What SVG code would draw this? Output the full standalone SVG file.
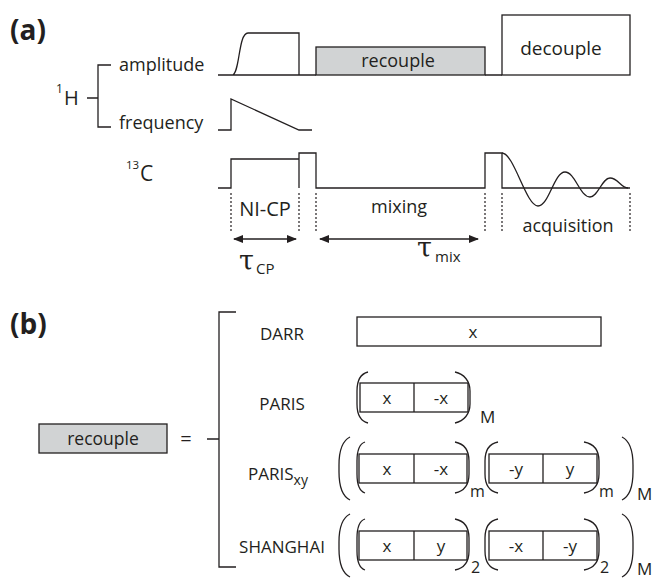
<svg xmlns="http://www.w3.org/2000/svg" width="654" height="581" viewBox="0 0 654 581">
  <defs>
    <style>
      .t { font-family: "Open Sans", "Liberation Sans", sans-serif; fill: #231f20; }
      .bold { font-weight: bold; }
      .greek { font-family: "DejaVu Serif", "Liberation Serif", serif; fill: #231f20; }
      .ln { fill: none; stroke: #231f20; stroke-width: 1.3; }
      .box { fill: #ffffff; stroke: #231f20; stroke-width: 1.3; }
      .gray { fill: #d1d3d4; stroke: #231f20; stroke-width: 1.3; }
      .dot { fill: none; stroke: #231f20; stroke-width: 1.2; stroke-dasharray: 2 2; }
      .arr { fill: none; stroke: #231f20; stroke-width: 1.4; marker-start: url(#ah); marker-end: url(#ah); }
      .par { fill: none; stroke: #231f20; stroke-width: 1.3; }
    </style>
    <marker id="ah" viewBox="0 0 10 8" refX="9" refY="4" markerWidth="10" markerHeight="8" markerUnits="userSpaceOnUse" orient="auto-start-reverse">
      <path d="M0,0 L10,4 L0,8 Z" fill="#231f20"/>
    </marker>
  </defs>

  <!-- panel labels -->
  <text class="t bold" x="10" y="40" font-size="28">(a)</text>
  <text class="t bold" x="10" y="334" font-size="28">(b)</text>

  <!-- ===== (a) pulse sequence ===== -->
  <g id="label-1H">
    <text class="t" x="56" y="93" font-size="12">1</text>
    <text class="t" x="64" y="105" font-size="20">H</text>
  </g>
  <g id="label-amplitude"><text class="t" x="119" y="71" font-size="18">amplitude</text></g>
  <g id="label-frequency"><text class="t" x="119" y="129" font-size="18">frequency</text></g>
  <g id="label-13C">
    <text class="t" x="126" y="169" font-size="11.5">13</text>
    <text class="t" x="140" y="181" font-size="21">C</text>
  </g>

  <!-- 1H amplitude channel -->
  <g id="h-amplitude">
    <path class="ln" d="M218,75 H316 M485,75 H502 M232,75 C240,75 238,33 248,33 H299 V75"/>
    <rect class="gray" x="316" y="47" width="169" height="28"/>
    <text class="t" x="398" y="67" font-size="18" text-anchor="middle">recouple</text>
    <rect class="box" x="502" y="15" width="128" height="60"/>
    <text class="t" x="561" y="55" font-size="19" text-anchor="middle">decouple</text>
  </g>

  <!-- 1H frequency channel -->
  <g id="h-frequency">
    <path class="ln" d="M218,130 H231 V99 L299,130 H312"/>
  </g>

  <!-- 13C channel -->
  <g id="c-channel">
    <path class="ln" d="M218,188 H231 V159 H299 V188 M299,159 V153 H316 V188 H485 V153 H502 V188 H630"/>
    <path class="ln" d="M502,153 C514,153 526,206 538,206 C549,206 554,172 565,172 C575,172 580,197 590,197 C598,197 602,178 610,178 C618,178 621,188 628,188"/>
  </g>

  <!-- timing windows -->
  <g id="timing">
    <path class="dot" d="M231,193 V232 M299,193 V232 M316,193 V232 M485,193 V232 M502,193 V232 M630,193 V232"/>
    <text class="t" x="265" y="216" font-size="20" text-anchor="middle">NI-CP</text>
    <text class="t" x="399" y="213" font-size="18" text-anchor="middle">mixing</text>
    <text class="t" x="568" y="232" font-size="18" text-anchor="middle">acquisition</text>
    <text class="greek" x="239" y="270" font-size="27">τ</text>
    <text class="t" x="256" y="274" font-size="15">CP</text>
    <text class="greek" x="417" y="257" font-size="27">τ</text>
    <text class="t" x="435" y="262" font-size="15">mix</text>
  </g>

  <!-- ===== (b) recoupling schemes ===== -->
  <g id="recouple-block">
    <rect class="gray" x="39" y="424" width="128" height="29"/>
    <text class="t" x="103" y="445" font-size="17.5" text-anchor="middle">recouple</text>
    <text class="t" x="186" y="446" font-size="20" text-anchor="middle">=</text>
  </g>

  <g id="darr">
    <text class="t" x="282" y="340" font-size="17" text-anchor="middle">DARR</text>
    <rect class="box" x="357" y="317" width="244" height="29"/>
    <text class="t" x="473" y="338" font-size="17" text-anchor="middle">x</text>
  </g>

  <g id="paris">
    <text class="t" x="282" y="410" font-size="17" text-anchor="middle">PARIS</text>
    <rect class="box" x="360" y="383" width="108" height="29"/>
    <line class="ln" x1="414" y1="383" x2="414" y2="412"/>
    <text class="t" x="387" y="404" font-size="17" text-anchor="middle">x</text>
    <text class="t" x="441" y="404" font-size="17" text-anchor="middle">-x</text>
    <path class="par" d="M368,372 C360,374 357,381 357,391 V404 C357,414 360,421 368,423"/>
    <path class="par" d="M455,372 C464,374 470,381 470,391 V404 C470,414 464,421 455,423"/>
    <text class="t" x="480" y="423" font-size="17">M</text>
  </g>

  <g id="paris-xy">
    <text class="t" x="248" y="480" font-size="17">PARIS<tspan font-size="14" dy="5">xy</tspan></text>
    <path class="par" d="M350,437 C342,441 339,452 339,465 V472 C339,485 342,496 350,500"/>
    <path class="par" d="M365,442 C359,444 357,451 357,461 V474 C357,484 359,491 365,493"/>
    <rect class="box" x="359" y="454" width="108" height="29"/>
    <line class="ln" x1="414" y1="454" x2="414" y2="483"/>
    <text class="t" x="387" y="475" font-size="17" text-anchor="middle">x</text>
    <text class="t" x="441" y="475" font-size="17" text-anchor="middle">-x</text>
    <path class="par" d="M455,442 C465,444 469,451 469,461 V474 C469,484 465,491 455,493"/>
    <text class="t" x="470" y="497" font-size="16">m</text>
    <path class="par" d="M498,442 C488,444 485,451 485,461 V474 C485,484 488,491 498,493"/>
    <rect class="box" x="489" y="454" width="108" height="29"/>
    <line class="ln" x1="543" y1="454" x2="543" y2="483"/>
    <text class="t" x="516" y="475" font-size="17" text-anchor="middle">-y</text>
    <text class="t" x="570" y="475" font-size="17" text-anchor="middle">y</text>
    <path class="par" d="M584,442 C595,444 599,451 599,461 V474 C599,484 595,491 584,493"/>
    <text class="t" x="599" y="497" font-size="16">m</text>
    <path class="par" d="M622,437 C630,441 633,452 633,465 V472 C633,485 630,496 622,500"/>
    <text class="t" x="637" y="500" font-size="17">M</text>
  </g>

  <g id="shanghai">
    <text class="t" x="282" y="553" font-size="17" text-anchor="middle">SHANGHAI</text>
    <path class="par" d="M350,514 C342,518 339,529 339,542 V549 C339,562 342,573 350,577"/>
    <path class="par" d="M365,519 C359,521 357,528 357,538 V551 C357,561 359,568 365,570"/>
    <rect class="box" x="359" y="531" width="108" height="29"/>
    <line class="ln" x1="414" y1="531" x2="414" y2="560"/>
    <text class="t" x="387" y="552" font-size="17" text-anchor="middle">x</text>
    <text class="t" x="441" y="552" font-size="17" text-anchor="middle">y</text>
    <path class="par" d="M455,519 C465,521 469,528 469,538 V551 C469,561 465,568 455,570"/>
    <text class="t" x="471" y="573" font-size="16">2</text>
    <path class="par" d="M498,519 C488,521 485,528 485,538 V551 C485,561 488,568 498,570"/>
    <rect class="box" x="489" y="531" width="108" height="29"/>
    <line class="ln" x1="543" y1="531" x2="543" y2="560"/>
    <text class="t" x="516" y="552" font-size="17" text-anchor="middle">-x</text>
    <text class="t" x="570" y="552" font-size="17" text-anchor="middle">-y</text>
    <path class="par" d="M584,519 C595,521 599,528 599,538 V551 C599,561 595,568 584,570"/>
    <text class="t" x="600" y="573" font-size="16">2</text>
    <path class="par" d="M622,514 C630,518 633,529 633,542 V549 C633,562 630,573 622,577"/>
    <text class="t" x="637" y="575" font-size="17">M</text>
  </g>

  <!-- connectors: brackets and duration arrows -->
  <g id="connectors">
    <path class="ln" d="M87,98 H98 M111,65 H98 V127 H111"/>
    <path class="ln" d="M207,439 H219 M236,312 H219 V567 H236"/>
    <line class="arr" x1="234" y1="239" x2="296" y2="239"/>
    <line class="arr" x1="320" y1="239" x2="478" y2="239"/>
  </g>
</svg>
